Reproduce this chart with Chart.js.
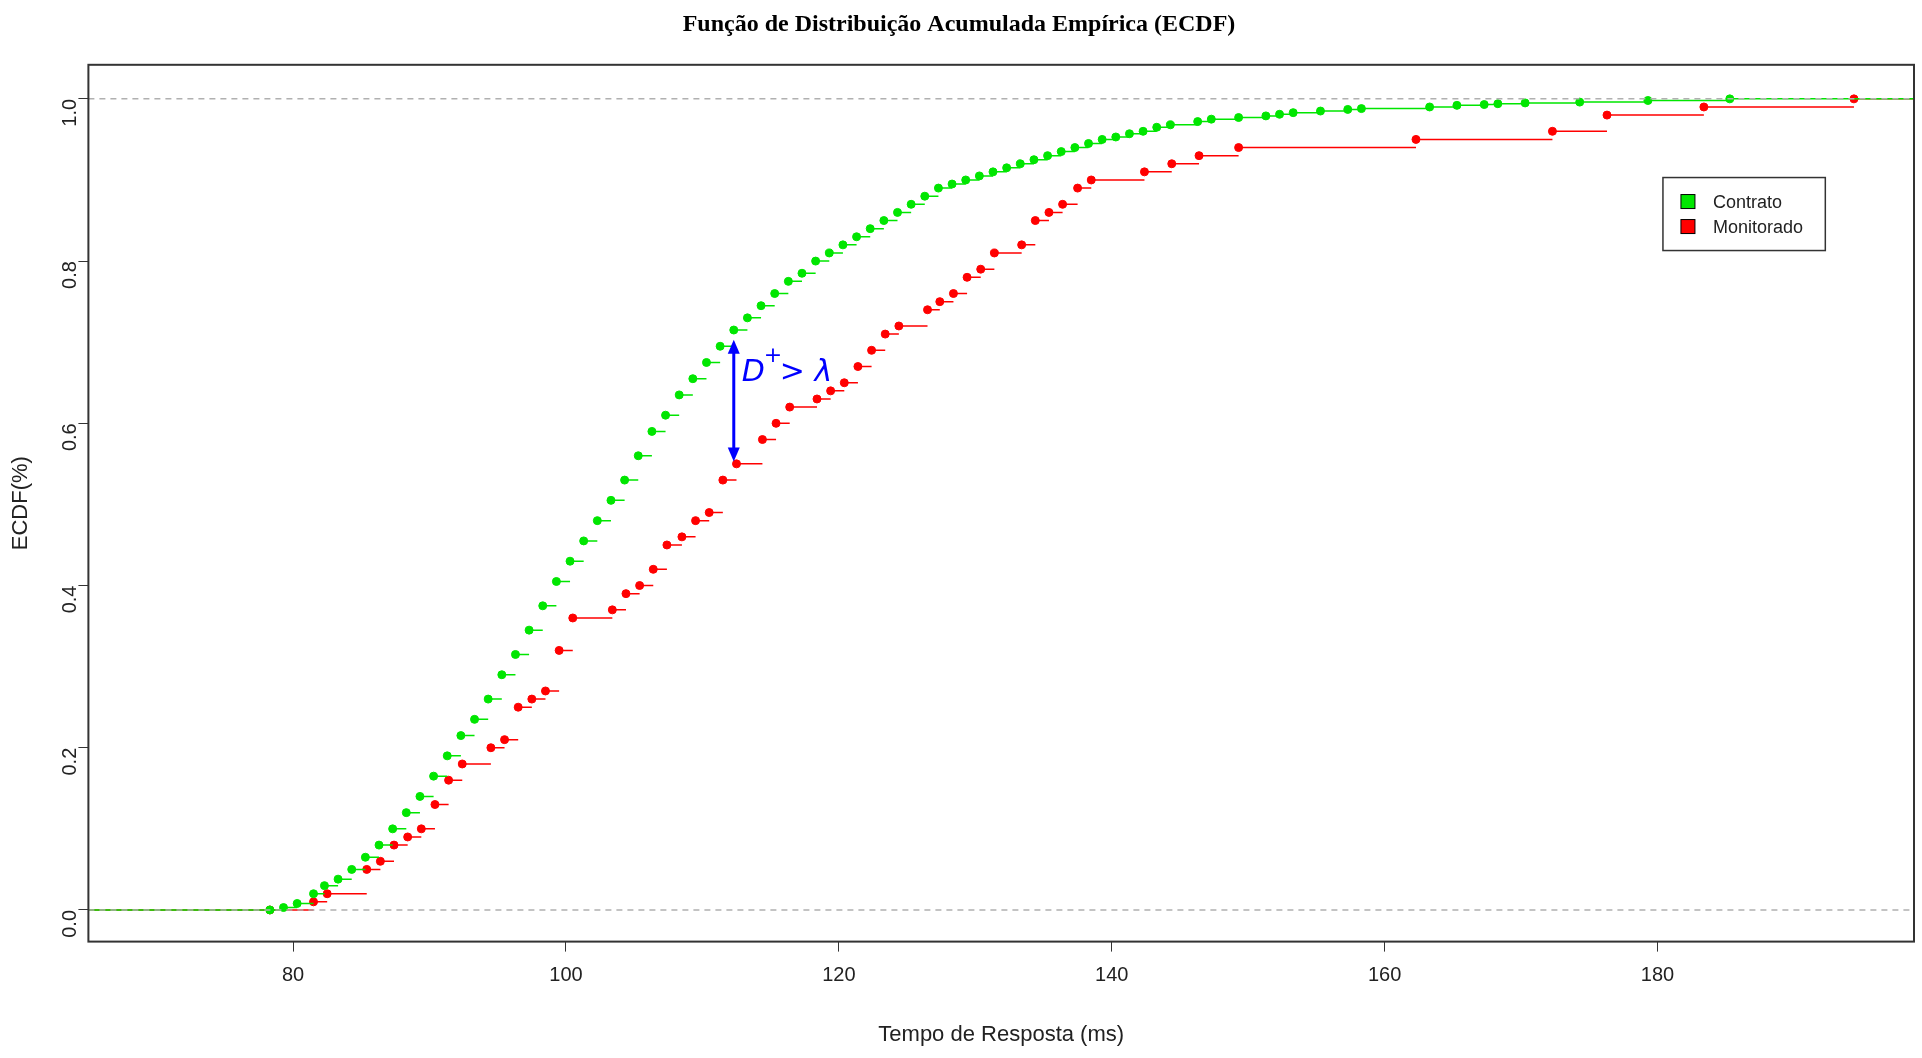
<!DOCTYPE html>
<html>
<head>
<meta charset="utf-8">
<script src="https://cdn.jsdelivr.net/npm/chart.js@4.4.1/dist/chart.umd.min.js"></script>
<style>
  html, body { margin: 0; padding: 0; background: #fff; }
  #wrap { width: 1922px; height: 1058px; }
</style>
</head>
<body>
<div id="wrap"><canvas id="ecdf"></canvas></div>
<script>
// valores (x = tempo de resposta, y = ECDF)
const contratoX = [78.3, 79.3, 80.3, 81.5, 82.3, 83.3, 84.3, 85.3, 86.3, 87.3, 88.3, 89.3, 90.3, 91.3, 92.3, 93.3, 94.3, 95.3, 96.3, 97.3, 98.3, 99.3, 100.3, 101.3, 102.3, 103.3, 104.3, 105.3, 106.3, 107.3, 108.3, 109.3, 110.3, 111.3, 112.3, 113.3, 114.3, 115.3, 116.3, 117.3, 118.3, 119.3, 120.3, 121.3, 122.3, 123.3, 124.3, 125.3, 126.3, 127.3, 128.3, 129.3, 130.3, 131.3, 132.3, 133.3, 134.3, 135.3, 136.3, 137.3, 138.3, 139.3, 140.3, 141.3, 142.3, 143.3, 144.3, 146.3, 147.3, 149.3, 151.3, 152.3, 153.3, 155.3, 157.3, 158.3, 163.3, 165.3, 167.3, 168.3, 170.3, 174.3, 179.3, 185.3];
const contratoY = [0.0, 0.003, 0.008, 0.02, 0.03, 0.038, 0.05, 0.065, 0.08, 0.1, 0.12, 0.14, 0.165, 0.19, 0.215, 0.235, 0.26, 0.29, 0.315, 0.345, 0.375, 0.405, 0.43, 0.455, 0.48, 0.505, 0.53, 0.56, 0.59, 0.61, 0.635, 0.655, 0.675, 0.695, 0.715, 0.73, 0.745, 0.76, 0.775, 0.785, 0.8, 0.81, 0.82, 0.83, 0.84, 0.85, 0.86, 0.87, 0.88, 0.89, 0.895, 0.9, 0.905, 0.91, 0.915, 0.92, 0.925, 0.93, 0.935, 0.94, 0.945, 0.95, 0.953, 0.957, 0.96, 0.965, 0.968, 0.972, 0.975, 0.977, 0.979, 0.981, 0.983, 0.985, 0.987, 0.988, 0.99, 0.992, 0.993, 0.994, 0.995, 0.996, 0.998, 1.0];

const monitoradoX = [78.3, 81.5, 82.5, 85.4, 86.4, 87.4, 88.4, 89.4, 90.4, 91.4, 92.4, 94.5, 95.5, 96.5, 97.5, 98.5, 99.5, 100.5, 103.4, 104.4, 105.4, 106.4, 107.4, 108.5, 109.5, 110.5, 111.5, 112.5, 114.4, 115.4, 116.4, 118.4, 119.4, 120.4, 121.4, 122.4, 123.4, 124.4, 126.5, 127.4, 128.4, 129.4, 130.4, 131.4, 133.4, 134.4, 135.4, 136.4, 137.5, 138.5, 142.4, 144.4, 146.4, 149.3, 162.3, 172.3, 176.3, 183.4, 194.4];
const monitoradoY = [0.0, 0.01, 0.02, 0.05, 0.06, 0.08, 0.09, 0.10, 0.13, 0.16, 0.18, 0.20, 0.21, 0.25, 0.26, 0.27, 0.32, 0.36, 0.37, 0.39, 0.40, 0.42, 0.45, 0.46, 0.48, 0.49, 0.53, 0.55, 0.58, 0.60, 0.62, 0.63, 0.64, 0.65, 0.67, 0.69, 0.71, 0.72, 0.74, 0.75, 0.76, 0.78, 0.79, 0.81, 0.82, 0.85, 0.86, 0.87, 0.89, 0.90, 0.91, 0.92, 0.93, 0.94, 0.95, 0.96, 0.98, 0.99, 1.0];

const yTicks = [0, 0.2, 0.4, 0.6, 0.8, 1.0];
const xTicks = [80, 100, 120, 140, 160, 180];
const xMin = 65, xMax = 198.8;

const GREEN = '#00e600';
const RED = '#ff0000';

// pontos e segmentos horizontais (sem verticais, como no ecdf do R)
function pontos(xs, ys) {
    return xs.map((x, i) => ({ x: x, y: ys[i] }));
}
function degraus(xs, ys) {
    const out = [{ x: xMin, y: 0 }, { x: xs[0], y: 0 }, { x: xs[0], y: null }];
    for (let i = 0; i < xs.length; i++) {
        const fim = i < xs.length - 1 ? xs[i + 1] : xMax;
        out.push({ x: xs[i], y: ys[i] }, { x: fim, y: ys[i] }, { x: fim, y: null });
    }
    return out;
}

// moldura, seta D+ e legenda
const extras = {
    id: 'extras',
    afterDatasetsDraw(chart) {
        const { ctx, chartArea: a, scales: { x, y } } = chart;
        ctx.save();
        ctx.strokeStyle = '#333';
        ctx.lineWidth = 2;
        ctx.strokeRect(a.left, a.top, a.right - a.left, a.bottom - a.top);

        // seta dupla
        const ax = x.getPixelForValue(112.3);
        const y1 = y.getPixelForValue(0.703);
        const y2 = y.getPixelForValue(0.553);
        ctx.strokeStyle = '#0000ff';
        ctx.fillStyle = '#0000ff';
        ctx.lineWidth = 3;
        ctx.beginPath();
        ctx.moveTo(ax, y1 + 6);
        ctx.lineTo(ax, y2 - 6);
        ctx.stroke();
        [[y1, 1], [y2, -1]].forEach(([py, d]) => {
            ctx.beginPath();
            ctx.moveTo(ax, py);
            ctx.lineTo(ax - 6, py + d * 14);
            ctx.lineTo(ax + 6, py + d * 14);
            ctx.closePath();
            ctx.fill();
        });
        ctx.font = 'italic 30px "DejaVu Sans", sans-serif';
        ctx.textBaseline = 'alphabetic';
        ctx.fillText('D', ax + 8, y.getPixelForValue(0.652));
        ctx.font = '22px "DejaVu Sans", sans-serif';
        ctx.fillText('+', ax + 30, y.getPixelForValue(0.675));
        ctx.font = 'italic 30px "DejaVu Sans", sans-serif';
        ctx.fillText('> λ', ax + 46, y.getPixelForValue(0.652));

        // legenda
        const lx = x.getPixelForValue(180.4), rx = x.getPixelForValue(192.3);
        const ty = y.getPixelForValue(0.903), by = y.getPixelForValue(0.813);
        ctx.fillStyle = '#fff';
        ctx.fillRect(lx, ty, rx - lx, by - ty);
        ctx.strokeStyle = '#333';
        ctx.lineWidth = 1.5;
        ctx.strokeRect(lx, ty, rx - lx, by - ty);
        ctx.font = '18px "Liberation Sans", Arial, sans-serif';
        ctx.textBaseline = 'middle';
        [['Contrato', GREEN], ['Monitorado', RED]].forEach(([t, c], i) => {
            const cy = ty + 24 + i * 25;
            ctx.fillStyle = c;
            ctx.fillRect(lx + 18, cy - 7, 14, 14);
            ctx.strokeStyle = '#000';
            ctx.lineWidth = 1;
            ctx.strokeRect(lx + 18, cy - 7, 14, 14);
            ctx.fillStyle = '#222';
            ctx.fillText(t, lx + 50, cy + 1);
        });
        ctx.restore();
    }
};

new Chart(document.getElementById('ecdf'), {
    type: 'scatter',
    data: {
        datasets: [
            { data: [{ x: xMin, y: 0 }, { x: xMax, y: 0 }], showLine: true, borderColor: '#b0b0b0', borderWidth: 1.5, borderDash: [6, 5], pointRadius: 0 },
            { data: [{ x: xMin, y: 1 }, { x: xMax, y: 1 }], showLine: true, borderColor: '#b0b0b0', borderWidth: 1.5, borderDash: [6, 5], pointRadius: 0 },
            { data: degraus(contratoX, contratoY), showLine: true, spanGaps: false, borderColor: GREEN, borderWidth: 1.5, pointRadius: 0 },
            { data: pontos(contratoX, contratoY), backgroundColor: GREEN, borderColor: GREEN, pointRadius: 4 },
            { data: degraus(monitoradoX, monitoradoY), showLine: true, spanGaps: false, borderColor: RED, borderWidth: 1.5, pointRadius: 0 },
            { data: pontos(monitoradoX, monitoradoY), backgroundColor: RED, borderColor: RED, pointRadius: 4 }
        ]
    },
    options: {
        responsive: true,
        maintainAspectRatio: false,
        animation: false,
        layout: { padding: { left: 4, right: 8, top: 0, bottom: 6 } },
        plugins: {
            legend: { display: false },
            tooltip: { enabled: false },
            title: {
                display: true,
                text: 'Função de Distribuição Acumulada Empírica (ECDF)',
                color: '#000',
                font: { family: '"Liberation Serif", serif', size: 24, weight: 'bold' },
                padding: { top: 10, bottom: 26 }
            }
        },
        scales: {
            x: {
                type: 'linear',
                min: xMin,
                max: xMax,
                afterBuildTicks: axis => { axis.ticks = xTicks.map(v => ({ value: v })); },
                grid: { drawOnChartArea: false, drawTicks: true, tickLength: 10, color: '#333' },
                border: { display: false },
                ticks: { color: '#222', padding: 12, font: { family: '"Liberation Sans", sans-serif', size: 20 } },
                title: { display: true, text: 'Tempo de Resposta (ms)', color: '#222', padding: { top: 22 }, font: { family: '"Liberation Sans", sans-serif', size: 22 } }
            },
            y: {
                min: -0.039,
                max: 1.042,
                afterBuildTicks: axis => { axis.ticks = yTicks.map(v => ({ value: v })); },
                grid: { drawOnChartArea: false, drawTicks: true, tickLength: 10, color: '#333' },
                border: { display: false },
                ticks: { color: '#222', padding: 8, minRotation: 90, maxRotation: 90, callback: v => v.toFixed(1), font: { family: '"Liberation Sans", sans-serif', size: 20 } },
                title: { display: true, text: 'ECDF(%)', color: '#222', padding: { bottom: 4 }, font: { family: '"Liberation Sans", sans-serif', size: 22 } }
            }
        }
    },
    plugins: [extras]
});
</script>
</body>
</html>
